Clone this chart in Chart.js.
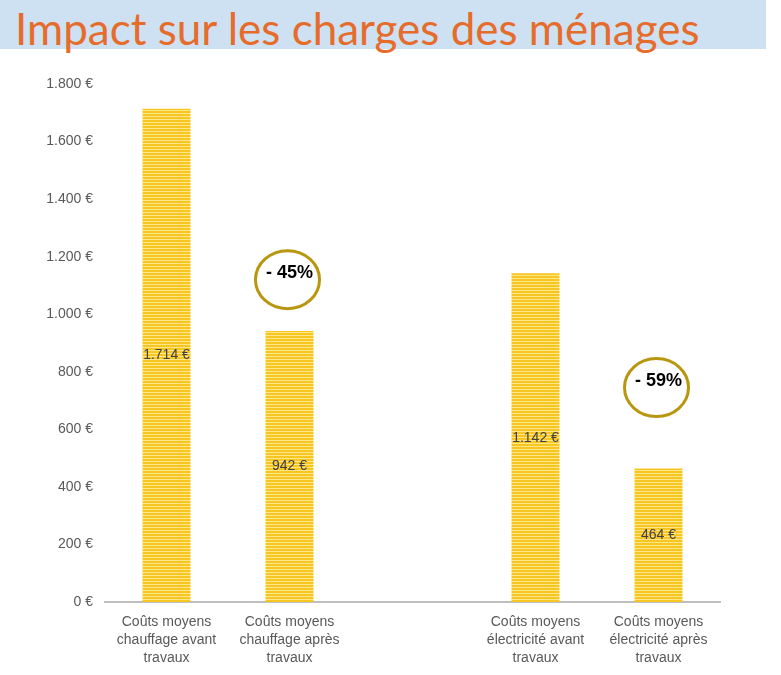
<!DOCTYPE html>
<html>
<head>
  <title>Impact sur les charges des ménages</title>
  <script src="https://cdn.jsdelivr.net/npm/chart.js"></script>
  <style>
    body { margin: 0; background: #fff; }
    #banner {
      position: absolute; left: 0; top: 0; width: 766px; height: 49px;
      background: #cde1f2;
    }
    #banner span {
      position: absolute; left: 15px; top: 4px;
      font-family: Lato, "Open Sans", sans-serif; font-size: 44px; color: #e66c2c;
      line-height: 49px; white-space: nowrap;
    }
    #wrap { position: absolute; left: 0; top: 0; width: 781px; height: 675px; }
  </style>
</head>
<body>
  <div id="banner"><span>Impact sur les charges des ménages</span></div>
  <div id="wrap"><canvas id="bars"></canvas></div>

  <script>
    // categories (the empty one makes the gap between the two groups)
    const labels = [
      ['Coûts moyens', 'chauffage avant', 'travaux'],
      ['Coûts moyens', 'chauffage après', 'travaux'],
      '',
      ['Coûts moyens', 'électricité avant', 'travaux'],
      ['Coûts moyens', 'électricité après', 'travaux']
    ];
    const costs = [1714, 942, null, 1142, 464];
    const yTicks = [0, 200, 400, 600, 800, 1000, 1200, 1400, 1600, 1800];

    // before/after pairs for the reduction bubbles
    const reductions = [
      { before: 0, after: 1, bubbleAt: 1120 },
      { before: 3, after: 4, bubbleAt: 745 }
    ];

    const euro = v => v.toString().replace(/\B(?=(\d{3})+(?!\d))/g, '.') + ' €';

    // striped yellow fill
    function stripes() {
      const c = document.createElement('canvas');
      c.width = 4; c.height = 3;
      const g = c.getContext('2d');
      g.fillStyle = '#f8c620'; g.fillRect(0, 0, 4, 3);
      g.fillStyle = '#fde58a'; g.fillRect(0, 2, 4, 1);
      return g.createPattern(c, 'repeat');
    }

    const valueLabels = {
      id: 'valueLabels',
      afterDatasetsDraw(chart) {
        const ctx = chart.ctx;
        const meta = chart.getDatasetMeta(0);
        ctx.save();
        ctx.font = '14px "Liberation Sans", Arial, sans-serif';
        ctx.fillStyle = '#404040';
        ctx.textAlign = 'center';
        ctx.textBaseline = 'middle';
        meta.data.forEach((bar, i) => {
          if (costs[i] == null) return;
          ctx.fillText(euro(costs[i]), bar.x, (bar.y + bar.base) / 2);
        });
        ctx.restore();
      }
    };

    const bubbles = {
      id: 'bubbles',
      afterDraw(chart) {
        const ctx = chart.ctx;
        const meta = chart.getDatasetMeta(0);
        const y = chart.scales.y;
        ctx.save();
        reductions.forEach(r => {
          const cx = meta.data[r.after].x - 2;
          const cy = y.getPixelForValue(r.bubbleAt);
          const pct = Math.round((costs[r.after] - costs[r.before]) / costs[r.before] * 100);
          ctx.beginPath();
          ctx.ellipse(cx, cy, 32, 29, 0, 0, Math.PI * 2);
          ctx.lineWidth = 3;
          ctx.strokeStyle = '#b8960f';
          ctx.stroke();
          ctx.font = 'bold 18px "Liberation Sans", Arial, sans-serif';
          ctx.fillStyle = '#000';
          ctx.textAlign = 'center';
          ctx.textBaseline = 'middle';
          ctx.fillText('- ' + Math.abs(pct) + '%', cx + 2, cy - 7);
        });
        ctx.restore();
      }
    };

    new Chart(document.getElementById('bars'), {
      type: 'bar',
      data: {
        labels: labels,
        datasets: [{
          data: costs,
          backgroundColor: stripes(),
          borderWidth: 0,
          categoryPercentage: 1,
          barPercentage: 0.39
        }]
      },
      options: {
        responsive: true,
        maintainAspectRatio: false,
        animation: false,
        layout: { padding: { top: 84, right: 61, bottom: 0, left: 0 } },
        plugins: { legend: { display: false }, tooltip: { enabled: false } },
        scales: {
          x: {
            grid: { display: false, drawTicks: false },
            border: { display: true, color: '#bfbfbf', width: 2 },
            ticks: {
              color: '#595959',
              font: { family: '"Liberation Sans", Arial, sans-serif', size: 14, lineHeight: 1.3 },
              padding: 11,
              maxRotation: 0,
              autoSkip: false
            },
            afterFit: s => { s.height = 73; }
          },
          y: {
            min: 0,
            max: 1800,
            grid: { display: false, drawTicks: false },
            border: { display: false },
            afterBuildTicks: s => { s.ticks = yTicks.map(v => ({ value: v })); },
            ticks: {
              color: '#595959',
              font: { family: '"Liberation Sans", Arial, sans-serif', size: 14 },
              padding: 12,
              callback: v => euro(v)
            },
            afterFit: s => { s.width = 105; }
          }
        }
      },
      plugins: [valueLabels, bubbles]
    });
  </script>
</body>
</html>
